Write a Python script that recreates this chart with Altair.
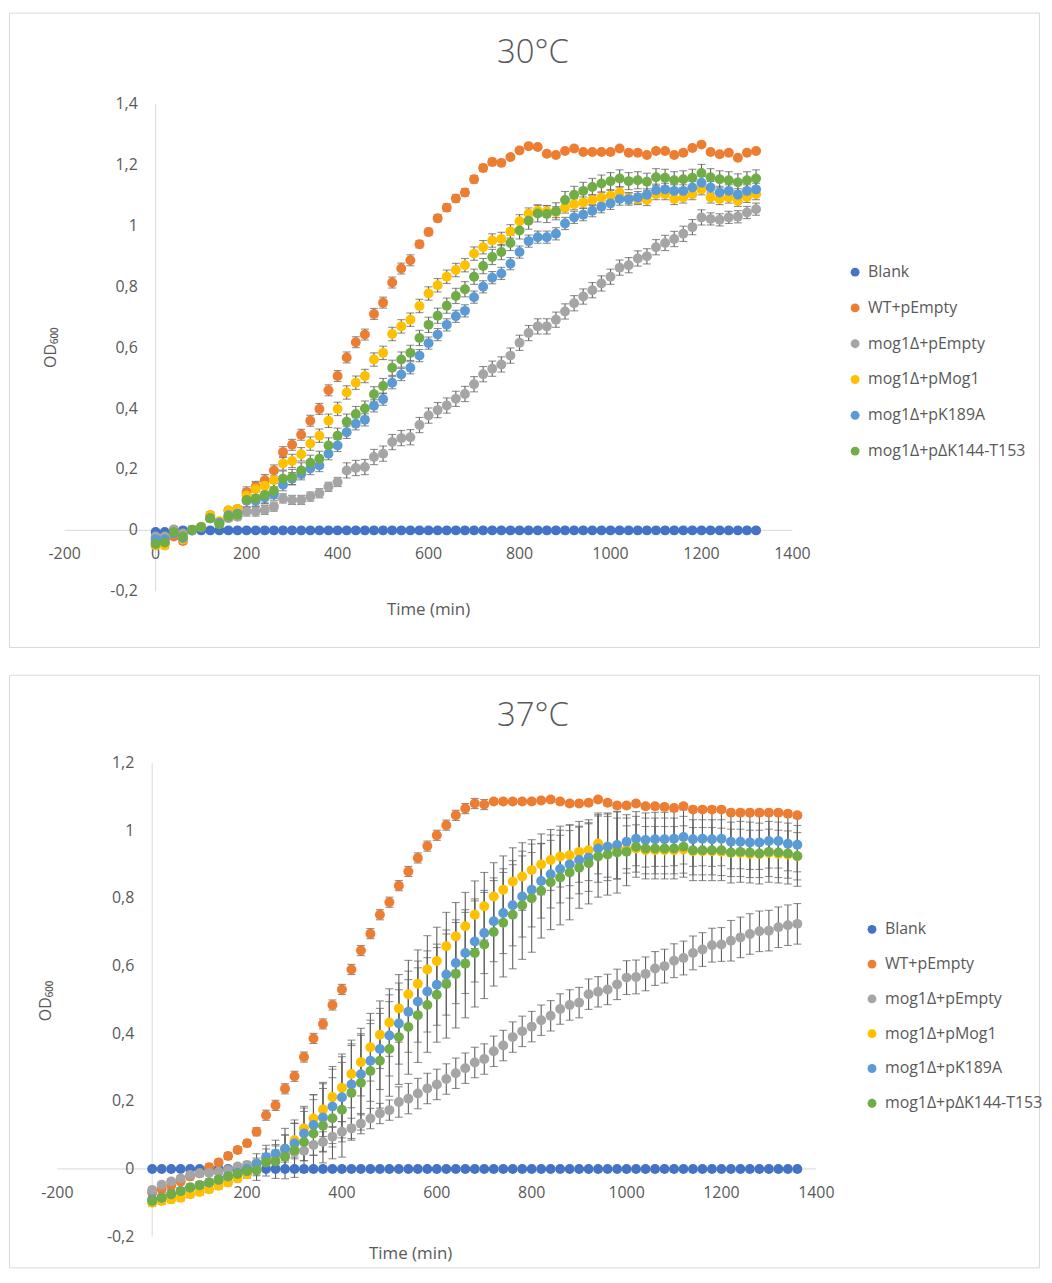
import altair as alt
import pandas as pd

FONT = "Open Sans"
TXT = "#595959"
AXC = "#d9d9d9"
EBC = "#5f5f5f"

SERIES = ["Blank", "WT+pEmpty", "mog1Δ+pEmpty", "mog1Δ+pMog1", "mog1Δ+pK189A", "mog1Δ+pΔK144-T153"]
COLORS = ["#4472C4", "#ED7D31", "#A5A5A5", "#FFC000", "#5B9BD5", "#70AD47"]

X_TICKS = [-200, 0, 200, 400, 600, 800, 1000, 1200, 1400]
X_LABELS = ["-200", "0", "200", "400", "600", "800", "1000", "1200", "1400"]
Y_TICKS_30 = [-0.2, 0.0, 0.2, 0.4, 0.6, 0.8, 1.0, 1.2, 1.4]
Y_LABELS_30 = ["-0,2", "0", "0,2", "0,4", "0,6", "0,8", "1", "1,2", "1,4"]
Y_TICKS_37 = [-0.2, 0.0, 0.2, 0.4, 0.6, 0.8, 1.0, 1.2]
Y_LABELS_37 = ["-0,2", "0", "0,2", "0,4", "0,6", "0,8", "1", "1,2"]

# ---------------- 30 °C ----------------
TIME_30 = [0, 20, 40, 60, 80, 100, 120, 140, 160, 180,
           200, 220, 240, 260, 280, 300, 320, 340, 360, 380,
           400, 420, 440, 460, 480, 500, 520, 540, 560, 580,
           600, 620, 640, 660, 680, 700, 720, 740, 760, 780,
           800, 820, 840, 860, 880, 900, 920, 940, 960, 980,
           1000, 1020, 1040, 1060, 1080, 1100, 1120, 1140, 1160, 1180,
           1200, 1220, 1240, 1260, 1280, 1300, 1320]
BLANK_30 = [-0.005, -0.005, 0, 0, 0, 0, 0, 0, 0, 0,
            0, 0, 0, 0, 0, 0, 0, 0, 0, 0,
            0, 0, 0, 0, 0, 0, 0, 0, 0, 0,
            0, 0, 0, 0, 0, 0, 0, 0, 0, 0,
            0, 0, 0, 0, 0, 0, 0, 0, 0, 0,
            0, 0, 0, 0, 0, 0, 0, 0, 0, 0,
            0, 0, 0, 0, 0, 0, 0]
WT_30 = [-0.04, -0.04, -0.02, -0.035, 0.0, 0.01, 0.05, 0.025, 0.065, 0.07,
         0.125, 0.143, 0.165, 0.197, 0.257, 0.281, 0.314, 0.36, 0.399, 0.46,
         0.507, 0.568, 0.618, 0.643, 0.711, 0.748, 0.814, 0.86, 0.887, 0.94,
         0.98, 1.025, 1.06, 1.09, 1.11, 1.153, 1.19, 1.21, 1.207, 1.226,
         1.248, 1.262, 1.259, 1.237, 1.233, 1.246, 1.254, 1.243, 1.243, 1.243,
         1.243, 1.254, 1.24, 1.24, 1.233, 1.246, 1.246, 1.233, 1.24, 1.256,
         1.267, 1.243, 1.235, 1.24, 1.224, 1.24, 1.246]
GRAY_30 = [-0.02, -0.02, 0.003, -0.01, 0.0, 0.01, 0.04, 0.025, 0.04, 0.045,
           0.062, 0.062, 0.067, 0.078, 0.105, 0.1, 0.1, 0.111, 0.122, 0.143,
           0.159, 0.197, 0.205, 0.208, 0.241, 0.252, 0.29, 0.303, 0.306, 0.346,
           0.377, 0.395, 0.41, 0.432, 0.448, 0.48, 0.513, 0.531, 0.545, 0.574,
           0.616, 0.648, 0.67, 0.67, 0.692, 0.719, 0.746, 0.768, 0.789, 0.811,
           0.833, 0.863, 0.871, 0.893, 0.9, 0.93, 0.944, 0.957, 0.974, 0.996,
           1.028, 1.023, 1.02, 1.028, 1.03, 1.044, 1.055]
YEL_30 = [-0.05, -0.05, -0.01, -0.03, 0.0, 0.012, 0.05, 0.03, 0.065, 0.07,
          0.115, 0.136, 0.147, 0.165, 0.22, 0.228, 0.25, 0.285, 0.311, 0.36,
          0.399, 0.453, 0.485, 0.507, 0.561, 0.583, 0.645, 0.67, 0.692, 0.737,
          0.778, 0.805, 0.833, 0.855, 0.871, 0.909, 0.93, 0.952, 0.957, 0.982,
          1.015, 1.041, 1.05, 1.048, 1.045, 1.06, 1.071, 1.077, 1.085, 1.093,
          1.099, 1.11, 1.091, 1.088, 1.085, 1.104, 1.104, 1.088, 1.093, 1.104,
          1.12, 1.093, 1.088, 1.093, 1.082, 1.095, 1.104]
BLUE_30 = [-0.03, -0.03, -0.01, -0.025, 0.0, 0.01, 0.04, 0.025, 0.05, 0.055,
           0.097, 0.097, 0.108, 0.119, 0.15, 0.17, 0.186, 0.203, 0.213, 0.252,
           0.279, 0.322, 0.35, 0.363, 0.409, 0.431, 0.485, 0.512, 0.534, 0.574,
           0.615, 0.643, 0.675, 0.703, 0.721, 0.766, 0.8, 0.83, 0.844, 0.876,
           0.914, 0.95, 0.963, 0.963, 0.974, 1.008, 1.028, 1.037, 1.05, 1.063,
           1.074, 1.088, 1.088, 1.093, 1.102, 1.117, 1.12, 1.115, 1.115, 1.126,
           1.142, 1.126, 1.11, 1.115, 1.102, 1.115, 1.12]
GREEN_30 = [-0.045, -0.04, -0.005, -0.02, 0.002, 0.01, 0.04, 0.02, 0.045, 0.051,
            0.1, 0.105, 0.116, 0.13, 0.17, 0.175, 0.197, 0.222, 0.235, 0.279,
            0.311, 0.357, 0.382, 0.4, 0.447, 0.474, 0.534, 0.561, 0.583, 0.632,
            0.675, 0.705, 0.738, 0.77, 0.792, 0.833, 0.868, 0.898, 0.914, 0.944,
            0.985, 1.017, 1.041, 1.039, 1.048, 1.085, 1.102, 1.115, 1.128, 1.139,
            1.147, 1.156, 1.147, 1.15, 1.145, 1.16, 1.158, 1.15, 1.153, 1.158,
            1.174, 1.16, 1.153, 1.15, 1.143, 1.15, 1.156]

ERR_WT_30 = [0.01, 0.01, 0.01, 0.01, 0.01, 0.01, 0.01, 0.01, 0.01, 0.01,
             0.018, 0.018, 0.018, 0.018, 0.018, 0.018, 0.018, 0.018, 0.018, 0.018,
             0.018, 0.018, 0.018, 0.018, 0.018, 0.018, 0.018, 0.018, 0.018, 0.012,
             0.012, 0.012, 0.012, 0.012, 0.012, 0.012, 0.012, 0.012, 0.006, 0.006,
             0.006, 0.006, 0.006, 0.006, 0.006, 0.006, 0.006, 0.006, 0.006, 0.006,
             0.006, 0.006, 0.006, 0.006, 0.006, 0.006, 0.006, 0.006, 0.006, 0.006,
             0.006, 0.006, 0.006, 0.006, 0.006, 0.006, 0.006]
ERR_GRAY_30 = [0.01, 0.01, 0.01, 0.01, 0.01, 0.01, 0.01, 0.01, 0.01, 0.01,
               0.015, 0.015, 0.015, 0.015, 0.015, 0.015, 0.015, 0.015, 0.015, 0.015,
               0.015, 0.025, 0.025, 0.025, 0.025, 0.025, 0.025, 0.025, 0.025, 0.025,
               0.025, 0.025, 0.025, 0.025, 0.025, 0.025, 0.025, 0.025, 0.025, 0.025,
               0.025, 0.025, 0.025, 0.025, 0.025, 0.025, 0.025, 0.025, 0.025, 0.025,
               0.025, 0.025, 0.025, 0.025, 0.025, 0.025, 0.025, 0.025, 0.025, 0.025,
               0.025, 0.02, 0.02, 0.02, 0.02, 0.02, 0.02]
ERR_YEL_30 = [0.01, 0.01, 0.01, 0.01, 0.01, 0.01, 0.01, 0.01, 0.01, 0.01,
              0.022, 0.022, 0.022, 0.022, 0.022, 0.022, 0.022, 0.022, 0.022, 0.022,
              0.022, 0.022, 0.022, 0.022, 0.022, 0.022, 0.022, 0.022, 0.022, 0.022,
              0.022, 0.022, 0.022, 0.022, 0.022, 0.022, 0.022, 0.022, 0.022, 0.022,
              0.022, 0.018, 0.018, 0.018, 0.018, 0.018, 0.018, 0.018, 0.018, 0.018,
              0.018, 0.018, 0.018, 0.018, 0.018, 0.018, 0.018, 0.018, 0.018, 0.018,
              0.018, 0.018, 0.018, 0.018, 0.018, 0.018, 0.018]
ERR_BLUE_30 = [0.01, 0.01, 0.01, 0.01, 0.01, 0.01, 0.01, 0.01, 0.01, 0.01,
               0.02, 0.02, 0.02, 0.02, 0.02, 0.02, 0.02, 0.02, 0.02, 0.02,
               0.02, 0.02, 0.02, 0.02, 0.02, 0.02, 0.02, 0.02, 0.02, 0.02,
               0.02, 0.02, 0.02, 0.02, 0.02, 0.02, 0.02, 0.02, 0.02, 0.02,
               0.02, 0.02, 0.02, 0.02, 0.02, 0.02, 0.02, 0.02, 0.02, 0.02,
               0.02, 0.02, 0.02, 0.02, 0.02, 0.02, 0.02, 0.02, 0.02, 0.02,
               0.02, 0.02, 0.02, 0.02, 0.02, 0.02, 0.02]
ERR_GREEN_30 = [0.012, 0.012, 0.012, 0.012, 0.012, 0.012, 0.012, 0.012, 0.012, 0.012,
                0.025, 0.025, 0.025, 0.025, 0.025, 0.025, 0.025, 0.025, 0.025, 0.025,
                0.025, 0.025, 0.025, 0.025, 0.025, 0.025, 0.025, 0.025, 0.025, 0.025,
                0.025, 0.025, 0.025, 0.025, 0.025, 0.025, 0.025, 0.025, 0.025, 0.025,
                0.028, 0.028, 0.028, 0.028, 0.028, 0.028, 0.028, 0.028, 0.028, 0.028,
                0.028, 0.028, 0.028, 0.028, 0.028, 0.028, 0.028, 0.028, 0.028, 0.028,
                0.028, 0.028, 0.028, 0.028, 0.028, 0.028, 0.028]

# ---------------- 37 °C ----------------
TIME_37 = [0, 20, 40, 60, 80, 100, 120, 140, 160, 180,
           200, 220, 240, 260, 280, 300, 320, 340, 360, 380,
           400, 420, 440, 460, 480, 500, 520, 540, 560, 580,
           600, 620, 640, 660, 680, 700, 720, 740, 760, 780,
           800, 820, 840, 860, 880, 900, 920, 940, 960, 980,
           1000, 1020, 1040, 1060, 1080, 1100, 1120, 1140, 1160, 1180,
           1200, 1220, 1240, 1260, 1280, 1300, 1320, 1340, 1360]
BLANK_37 = [0, 0, 0, 0, 0, 0, 0, 0, 0, 0,
            0, 0, 0, 0, 0, 0, 0, 0, 0, 0,
            0, 0, 0, 0, 0, 0, 0, 0, 0, 0,
            0, 0, 0, 0, 0, 0, 0, 0, 0, 0,
            0, 0, 0, 0, 0, 0, 0, 0, 0, 0,
            0, 0, 0, 0, 0, 0, 0, 0, 0, 0,
            0, 0, 0, 0, 0, 0, 0, 0, 0]
WT_37 = [-0.07, -0.06, -0.05, -0.037, -0.022, -0.013, 0.005, 0.019, 0.038, 0.056,
         0.076, 0.11, 0.159, 0.188, 0.237, 0.274, 0.331, 0.386, 0.429, 0.485,
         0.531, 0.59, 0.646, 0.696, 0.752, 0.789, 0.838, 0.88, 0.92, 0.955,
         0.987, 1.017, 1.046, 1.066, 1.081, 1.078, 1.087, 1.087, 1.087, 1.087,
         1.087, 1.09, 1.093, 1.087, 1.081, 1.081, 1.083, 1.093, 1.083, 1.075,
         1.075, 1.081, 1.073, 1.073, 1.071, 1.068, 1.073, 1.063, 1.063, 1.063,
         1.063, 1.054, 1.054, 1.054, 1.054, 1.054, 1.054, 1.051, 1.046]
GRAY_37 = [-0.062, -0.047, -0.037, -0.028, -0.018, -0.013, -0.011, -0.008, -0.003, 0.007,
           0.012, 0.017, 0.026, 0.036, 0.046, 0.05, 0.054, 0.071, 0.08, 0.095,
           0.11, 0.12, 0.134, 0.149, 0.164, 0.174, 0.198, 0.208, 0.223, 0.238,
           0.25, 0.266, 0.283, 0.298, 0.315, 0.325, 0.348, 0.365, 0.39, 0.407,
           0.421, 0.44, 0.453, 0.473, 0.485, 0.492, 0.517, 0.524, 0.531, 0.546,
           0.566, 0.568, 0.577, 0.593, 0.6, 0.616, 0.624, 0.639, 0.649, 0.662,
           0.664, 0.675, 0.685, 0.695, 0.703, 0.705, 0.715, 0.721, 0.725]
YEL_37 = [-0.1, -0.095, -0.09, -0.085, -0.075, -0.068, -0.06, -0.05, -0.04, -0.028,
          -0.015, 0.0, 0.02, 0.038, 0.06, 0.085, 0.12, 0.149, 0.176, 0.213,
          0.24, 0.281, 0.316, 0.36, 0.397, 0.433, 0.475, 0.517, 0.548, 0.59,
          0.615, 0.659, 0.688, 0.718, 0.752, 0.777, 0.806, 0.826, 0.85, 0.865,
          0.884, 0.901, 0.914, 0.924, 0.928, 0.938, 0.943, 0.963, 0.953, 0.948,
          0.945, 0.948, 0.943, 0.943, 0.943, 0.943, 0.945, 0.94, 0.94, 0.94,
          0.938, 0.935, 0.935, 0.932, 0.932, 0.935, 0.932, 0.93, 0.925]
BLUE_37 = [-0.09, -0.085, -0.075, -0.065, -0.055, -0.048, -0.04, -0.032, -0.022, -0.012,
           0.0, 0.015, 0.035, 0.045, 0.06, 0.075, 0.105, 0.13, 0.152, 0.185,
           0.212, 0.25, 0.28, 0.32, 0.355, 0.395, 0.43, 0.465, 0.495, 0.525,
           0.545, 0.575, 0.609, 0.639, 0.673, 0.698, 0.733, 0.757, 0.78, 0.806,
           0.826, 0.852, 0.872, 0.887, 0.901, 0.914, 0.921, 0.948, 0.953, 0.958,
           0.968, 0.977, 0.973, 0.975, 0.975, 0.977, 0.982, 0.975, 0.977, 0.975,
           0.977, 0.968, 0.968, 0.966, 0.966, 0.97, 0.97, 0.962, 0.959]
GREEN_37 = [-0.095, -0.085, -0.075, -0.065, -0.055, -0.048, -0.04, -0.032, -0.022, -0.015,
            -0.007, -0.004, 0.019, 0.022, 0.036, 0.055, 0.08, 0.105, 0.128, 0.15,
            0.175, 0.225, 0.255, 0.29, 0.32, 0.355, 0.39, 0.42, 0.455, 0.485,
            0.515, 0.547, 0.577, 0.607, 0.639, 0.664, 0.701, 0.728, 0.752, 0.78,
            0.801, 0.823, 0.848, 0.862, 0.877, 0.891, 0.904, 0.924, 0.93, 0.936,
            0.938, 0.953, 0.948, 0.948, 0.948, 0.948, 0.953, 0.943, 0.943, 0.943,
            0.943, 0.936, 0.938, 0.936, 0.933, 0.938, 0.936, 0.933, 0.926]

ERR_WT_37 = [0.01, 0.01, 0.01, 0.01, 0.01, 0.01, 0.01, 0.01, 0.01, 0.01,
             0.01, 0.012, 0.015, 0.015, 0.015, 0.015, 0.015, 0.015, 0.015, 0.015,
             0.015, 0.015, 0.015, 0.015, 0.015, 0.015, 0.015, 0.015, 0.015, 0.015,
             0.015, 0.015, 0.015, 0.015, 0.015, 0.015, 0.008, 0.008, 0.008, 0.008,
             0.008, 0.008, 0.008, 0.008, 0.008, 0.008, 0.008, 0.008, 0.008, 0.008,
             0.008, 0.008, 0.008, 0.008, 0.008, 0.008, 0.008, 0.008, 0.008, 0.008,
             0.008, 0.008, 0.008, 0.008, 0.008, 0.008, 0.008, 0.008, 0.008]
ERR_GRAY_37 = [0.008, 0.008, 0.008, 0.008, 0.008, 0.008, 0.008, 0.008, 0.008, 0.008,
               0.01, 0.015, 0.02, 0.02, 0.02, 0.02, 0.03, 0.03, 0.03, 0.03,
               0.03, 0.03, 0.03, 0.03, 0.03, 0.03, 0.045, 0.045, 0.045, 0.045,
               0.045, 0.045, 0.045, 0.045, 0.045, 0.045, 0.045, 0.045, 0.045, 0.045,
               0.045, 0.045, 0.045, 0.045, 0.045, 0.045, 0.045, 0.045, 0.045, 0.045,
               0.05, 0.05, 0.05, 0.05, 0.05, 0.05, 0.05, 0.05, 0.05, 0.05,
               0.05, 0.06, 0.06, 0.06, 0.06, 0.06, 0.06, 0.06, 0.06]
ERR_YEL_37 = [0.01, 0.01, 0.01, 0.01, 0.01, 0.01, 0.01, 0.01, 0.01, 0.01,
              0.01, 0.02, 0.025, 0.03, 0.04, 0.05, 0.06, 0.07, 0.08, 0.09,
              0.1, 0.1, 0.1, 0.1, 0.1, 0.1, 0.1, 0.1, 0.1, 0.1,
              0.1, 0.1, 0.1, 0.1, 0.1, 0.1, 0.1, 0.1, 0.1, 0.1,
              0.09, 0.09, 0.09, 0.09, 0.09, 0.09, 0.09, 0.09, 0.09, 0.09,
              0.07, 0.07, 0.07, 0.07, 0.07, 0.07, 0.07, 0.07, 0.07, 0.07,
              0.07, 0.07, 0.07, 0.07, 0.07, 0.07, 0.07, 0.07, 0.07]
ERR_BLUE_37 = [0.01, 0.01, 0.01, 0.01, 0.01, 0.01, 0.01, 0.01, 0.01, 0.02,
               0.02, 0.03, 0.035, 0.04, 0.06, 0.07, 0.08, 0.09, 0.1, 0.11,
               0.12, 0.12, 0.12, 0.12, 0.12, 0.12, 0.12, 0.12, 0.12, 0.12,
               0.12, 0.12, 0.12, 0.12, 0.12, 0.12, 0.12, 0.12, 0.12, 0.12,
               0.11, 0.11, 0.1, 0.1, 0.1, 0.1, 0.1, 0.1, 0.1, 0.1,
               0.08, 0.08, 0.08, 0.08, 0.08, 0.08, 0.08, 0.08, 0.08, 0.08,
               0.08, 0.08, 0.08, 0.08, 0.08, 0.08, 0.08, 0.08, 0.08]
ERR_GREEN_37 = [0.01, 0.01, 0.01, 0.01, 0.01, 0.01, 0.01, 0.01, 0.01, 0.015,
                0.02, 0.03, 0.04, 0.05, 0.065, 0.08, 0.09, 0.1, 0.11, 0.12,
                0.14, 0.14, 0.14, 0.14, 0.14, 0.14, 0.14, 0.14, 0.14, 0.14,
                0.14, 0.16, 0.16, 0.16, 0.16, 0.16, 0.16, 0.16, 0.16, 0.16,
                0.16, 0.14, 0.14, 0.14, 0.14, 0.12, 0.12, 0.12, 0.12, 0.12,
                0.1, 0.09, 0.09, 0.09, 0.09, 0.09, 0.09, 0.09, 0.09, 0.09,
                0.09, 0.09, 0.09, 0.09, 0.09, 0.09, 0.09, 0.09, 0.09]


def make_df(times, vals_list, errs_list):
    rows = []
    for i, (name, vals, errs) in enumerate(zip(SERIES, vals_list, errs_list)):
        if errs is None:
            errs = [0.0] * len(vals)
        for t, v, e in zip(times, vals, errs):
            rows.append(dict(t=t, v=v, lo=v - e, hi=v + e, err=e, series=name, sidx=i))
    return pd.DataFrame(rows)


def panel(df, title, ydom, yticks, ylabels, xrange, yrange, W, H,
          leg_x, leg_y, row_pad, xt_pos, yt_pos):
    xs = alt.Scale(domain=[-200, 1400], range=xrange, nice=False, zero=False)
    ys = alt.Scale(domain=ydom, range=yrange, nice=False, zero=False)

    def X(f):
        return alt.X(f, type="quantitative", scale=xs, axis=None)

    def Y(f):
        return alt.Y(f, type="quantitative", scale=ys, axis=None)

    xline = alt.Chart(pd.DataFrame({"a": [-200], "b": [1400], "c": [0]})).mark_rule(
        color=AXC, strokeWidth=1).encode(x=X("a"), x2="b", y=Y("c"))
    yline = alt.Chart(pd.DataFrame({"a": [0], "c": [ydom[0]], "d": [ydom[1]]})).mark_rule(
        color=AXC, strokeWidth=1).encode(x=X("a"), y=Y("c"), y2="d")
    xlab = alt.Chart(pd.DataFrame({"a": X_TICKS, "lab": X_LABELS, "c": [0] * len(X_TICKS)})).mark_text(
        dy=24, align="center", baseline="middle", font=FONT, fontSize=16, color=TXT
    ).encode(x=X("a"), y=Y("c"), text="lab:N")
    ylab = alt.Chart(pd.DataFrame({"a": [0] * len(yticks), "c": yticks, "lab": ylabels})).mark_text(
        dx=-18, align="right", baseline="middle", font=FONT, fontSize=16, color=TXT
    ).encode(x=X("a"), y=Y("c"), text="lab:N")
    xtitle = alt.Chart(pd.DataFrame({"lab": ["Time (min)"]})).mark_text(
        align="center", baseline="middle", font=FONT, fontSize=17, color=TXT
    ).encode(x=alt.value(xt_pos[0]), y=alt.value(xt_pos[1]), text="lab:N")
    ytitle = alt.Chart(pd.DataFrame({"lab": ["OD₆₀₀"]})).mark_text(
        align="center", baseline="middle", angle=270, font=FONT, fontSize=16, color=TXT
    ).encode(x=alt.value(yt_pos[0]), y=alt.value(yt_pos[1]), text="lab:N")

    ed = df[df["err"] > 0]
    bars = alt.Chart(ed).mark_rule(color=EBC, strokeWidth=1.1).encode(
        x=X("t"), y=Y("lo"), y2="hi")
    caps_lo = alt.Chart(ed).mark_tick(color=EBC, orient="horizontal", size=8, thickness=1.1).encode(
        x=X("t"), y=Y("lo"))
    caps_hi = alt.Chart(ed).mark_tick(color=EBC, orient="horizontal", size=8, thickness=1.1).encode(
        x=X("t"), y=Y("hi"))

    pts = alt.Chart(df).mark_circle(size=100, opacity=1).encode(
        x=X("t"), y=Y("v"),
        color=alt.Color("series:N", scale=alt.Scale(domain=SERIES, range=COLORS),
                        legend=alt.Legend(orient="none", legendX=leg_x, legendY=leg_y,
                                          direction="vertical", title=None,
                                          labelFont=FONT, labelFontSize=16, labelColor=TXT,
                                          labelLimit=400, labelOffset=5,
                                          symbolType="circle", symbolSize=80,
                                          symbolStrokeWidth=0, symbolOpacity=1,
                                          rowPadding=row_pad, padding=0)),
        order=alt.Order("sidx:Q"),
    )

    return alt.layer(xline, yline, bars, caps_lo, caps_hi, xlab, ylab, xtitle, ytitle, pts).properties(
        width=W, height=H,
        title=alt.TitleParams(text=title, anchor="middle", frame="group", offset=-58, dx=9,
                              font=FONT, fontSize=33, fontWeight=300, color=TXT),
    )


df30 = make_df(TIME_30, [BLANK_30, WT_30, GRAY_30, YEL_30, BLUE_30, GREEN_30],
               [None, ERR_WT_30, ERR_GRAY_30, ERR_YEL_30, ERR_BLUE_30, ERR_GREEN_30])
df37 = make_df(TIME_37, [BLANK_37, WT_37, GRAY_37, YEL_37, BLUE_37, GREEN_37],
               [None, ERR_WT_37, ERR_GRAY_37, ERR_YEL_37, ERR_BLUE_37, ERR_GREEN_37])

top = panel(df30, "30°C", [-0.2, 1.4], Y_TICKS_30, Y_LABELS_30,
            [56, 788], [582, 92], 1036, 638, 843, 253, 20, (422, 601), (42, 337))
bot = panel(df37, "37°C", [-0.2, 1.2], Y_TICKS_37, Y_LABELS_37,
            [48.6, 812], [565, 89], 1036, 596, 860, 248, 19, (404, 583), (37, 328))

chart = alt.vconcat(top, bot, spacing=26).resolve_scale(
    x="independent", y="independent", color="independent"
).resolve_legend(color="independent").configure_view(
    stroke=AXC, strokeWidth=1
).properties(padding=0)

chart.save("out.html", embed_options={"renderer": "svg", "actions": False})
